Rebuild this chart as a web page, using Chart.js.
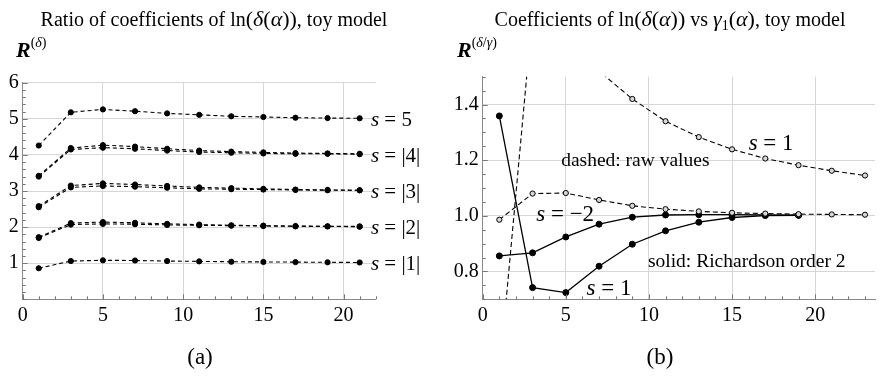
<!DOCTYPE html>
<html>
<head>
<meta charset="utf-8">
<script src="https://cdn.jsdelivr.net/npm/chart.js@4"></script>
<style>
  html, body { margin: 0; padding: 0; background: #fff; }
  .panel { position: absolute; top: 0; width: 440px; height: 377px; }
  #panelA { left: 0; }
  #panelB { left: 440px; }
</style>
</head>
<body>
<div class="panel" id="panelA"><canvas id="chartA" width="440" height="377"></canvas></div>
<div class="panel" id="panelB"><canvas id="chartB" width="440" height="377"></canvas></div>
<script>
// ---- data, panel (a) ----
const xA = [1, 3, 5, 7, 9, 11, 13, 15, 17, 19, 21];
const ratioS5 = [4.26, 5.18, 5.26, 5.21, 5.15, 5.11, 5.07, 5.05, 5.03, 5.02, 5.015];
const ratioS4hi = [3.42, 4.19, 4.27, 4.23, 4.17, 4.12, 4.09, 4.07, 4.05, 4.04, 4.03];
const ratioS4lo = [3.40, 4.15, 4.20, 4.17, 4.12, 4.08, 4.06, 4.04, 4.03, 4.03, 4.02];
const ratioS3hi = [2.58, 3.15, 3.21, 3.18, 3.14, 3.10, 3.08, 3.06, 3.04, 3.03, 3.02];
const ratioS3lo = [2.55, 3.10, 3.14, 3.12, 3.09, 3.06, 3.05, 3.04, 3.03, 3.02, 3.02];
const ratioS2hi = [1.72, 2.11, 2.14, 2.12, 2.09, 2.07, 2.05, 2.04, 2.03, 2.02, 2.02];
const ratioS2lo = [1.70, 2.07, 2.09, 2.08, 2.06, 2.05, 2.04, 2.03, 2.02, 2.02, 2.01];
const ratioS1 = [0.86, 1.06, 1.08, 1.075, 1.06, 1.05, 1.04, 1.035, 1.03, 1.025, 1.02];
const xTicksA = [0, 5, 10, 15, 20];
const yTicksA = [1, 2, 3, 4, 5, 6];

// ---- data, panel (b) ----
const xRaw = [1, 3, 5, 7, 9, 11, 13, 15, 17, 19, 21, 23];
const rawS1 = [0.43, 1.73, 1.62, 1.52, 1.42, 1.34, 1.283, 1.239, 1.206, 1.182, 1.162, 1.145];
const rawSm2 = [0.986, 1.08, 1.082, 1.057, 1.036, 1.024, 1.016, 1.011, 1.008, 1.006, 1.005, 1.004];
const xRich = [1, 3, 5, 7, 9, 11, 13, 15, 17, 19];
const richSm2 = [0.856, 0.867, 0.924, 0.97, 0.995, 1.003, 1.004, 1.004, 1.003, 1.002];
const richS1 = [1.359, 0.742, 0.724, 0.819, 0.898, 0.946, 0.977, 0.994, 1.001, 1.002];
const xTicksB = [0, 5, 10, 15, 20];
const yTicksB = [0.8, 1.0, 1.2, 1.4];

const SERIF = '"Liberation Serif", "Times New Roman", serif';
Chart.defaults.font.family = SERIF;

const pts = (xs, ys) => xs.map((x, i) => ({ x: x, y: ys[i] }));

// draw a run of text pieces with their own size / style
function drawParts(ctx, x, y, parts, align) {
    let total = 0;
    parts.forEach(p => {
        ctx.font = (p.style || '') + ' ' + p.size + 'px ' + SERIF;
        p.w = ctx.measureText(p.t).width;
        total += p.w;
    });
    let cx = align === 'center' ? x - total / 2 : x;
    ctx.fillStyle = '#000';
    ctx.textBaseline = 'alphabetic';
    ctx.textAlign = 'left';
    parts.forEach(p => {
        ctx.font = (p.style || '') + ' ' + p.size + 'px ' + SERIF;
        ctx.fillText(p.t, cx, y + (p.dy || 0));
        cx += p.w;
    });
}

const decorPlugin = {
    id: 'decor',
    afterDraw(chart, args, opts) {
        const ctx = chart.ctx;
        const xs = chart.scales.x, ys = chart.scales.y;
        const area = chart.chartArea;
        ctx.save();
        // minor / major tick marks pointing into the plot
        ctx.strokeStyle = '#777';
        ctx.lineWidth = 1;
        ctx.beginPath();
        for (let i = 0; xs.min + i * opts.minorX <= xs.max + 1e-9; i++) {
            const v = xs.min + i * opts.minorX;
            const px = Math.round(xs.getPixelForValue(v)) + 0.5;
            const len = Math.abs(v / opts.majorX - Math.round(v / opts.majorX)) < 1e-6 ? 5 : 3;
            ctx.moveTo(px, area.bottom);
            ctx.lineTo(px, area.bottom - len);
        }
        const y0 = Math.ceil(ys.min / opts.minorY - 1e-6);
        for (let i = y0; i * opts.minorY <= ys.max + 1e-9; i++) {
            const v = i * opts.minorY;
            const py = Math.round(ys.getPixelForValue(v)) + 0.5;
            const len = Math.abs(v / opts.majorY - Math.round(v / opts.majorY)) < 1e-6 ? 5 : 3;
            ctx.moveTo(area.left, py);
            ctx.lineTo(area.left + len, py);
        }
        ctx.stroke();

        // labels placed in data coordinates
        opts.notes.forEach(n => {
            const px = xs.getPixelForValue(n.x);
            const py = ys.getPixelForValue(n.y);
            drawParts(ctx, px, py + n.size * 0.33, n.parts.map(p => Object.assign({ size: n.size }, p)), 'left');
        });

        // page texts (title, axis label, panel tag)
        opts.texts.forEach(t => drawParts(ctx, t.x, t.y, t.parts, t.align));
        ctx.restore();
    }
};

function eqLabel(x, y, rhs, size) {
    return { x: x, y: y, size: size, parts: [{ t: 's', style: 'italic' }, { t: ' = ' + rhs }] };
}

function dashedSet(data, dash, marker) {
    return Object.assign({
        data: data,
        borderColor: '#000',
        borderWidth: 1.1,
        borderDash: dash,
        pointRadius: 2.6,
        pointBackgroundColor: '#000',
        pointBorderColor: '#000',
        pointBorderWidth: 1,
        tension: 0
    }, marker || {});
}

function axisOptions(min, max, ticks, fmt, fitFn) {
    return {
        type: 'linear',
        min: min,
        max: max,
        afterBuildTicks: s => { s.ticks = ticks.map(v => ({ value: v })); },
        afterFit: fitFn,
        grid: { color: '#d6d6d6', lineWidth: 1, drawTicks: false },
        border: { color: '#8a8a8a', width: 1 },
        ticks: {
            color: '#000',
            font: { family: SERIF, size: 20 },
            padding: 4,
            callback: fmt
        }
    };
}

// ---- panel (a) ----
const dashA = [4, 3];
new Chart(document.getElementById('chartA').getContext('2d'), {
    type: 'line',
    data: {
        datasets: [
            dashedSet(pts(xA, ratioS5), dashA),
            dashedSet(pts(xA, ratioS4hi), dashA),
            dashedSet(pts(xA, ratioS4lo), dashA),
            dashedSet(pts(xA, ratioS3hi), dashA),
            dashedSet(pts(xA, ratioS3lo), dashA),
            dashedSet(pts(xA, ratioS2hi), dashA),
            dashedSet(pts(xA, ratioS2lo), dashA),
            dashedSet(pts(xA, ratioS1), dashA)
        ]
    },
    options: {
        responsive: false,
        animation: false,
        layout: { padding: { left: 0, top: 82.7, right: 64.3, bottom: 37.7 } },
        scales: {
            x: axisOptions(0, 22, xTicksA, v => String(v), s => { s.height = 40; }),
            y: axisOptions(0, 6, yTicksA, v => String(v), s => { s.width = 22.7; })
        },
        plugins: {
            legend: { display: false },
            tooltip: { enabled: false },
            decor: {
                minorX: 1, majorX: 5, minorY: 0.2, majorY: 1,
                notes: [
                    eqLabel(21.7, 5, '5', 21),
                    eqLabel(21.7, 4, '|4|', 21),
                    eqLabel(21.7, 3, '|3|', 21),
                    eqLabel(21.7, 2, '|2|', 21),
                    eqLabel(21.7, 1, '|1|', 21)
                ],
                texts: [
                    { x: 214, y: 26, align: 'center', parts: [
                        { t: 'Ratio of coefficients of ln', size: 20 },
                        { t: '(', size: 22 }, { t: 'δ', size: 22, style: 'italic' },
                        { t: '(', size: 22 }, { t: 'α', size: 22, style: 'italic' },
                        { t: '))', size: 22 }, { t: ', toy model', size: 20 }
                    ] },
                    { x: 16, y: 57, align: 'left', parts: [
                        { t: 'R', size: 22, style: 'italic bold' },
                        { t: '(', size: 14, dy: -10 }, { t: 'δ', size: 14, style: 'italic', dy: -10 },
                        { t: ')', size: 14, dy: -10 }
                    ] },
                    { x: 200, y: 364, align: 'center', parts: [{ t: '(a)', size: 23 }] }
                ]
            }
        }
    },
    plugins: [decorPlugin]
});

// ---- panel (b) ----
const dashB = [5, 3];
const openDot = { pointBackgroundColor: '#d8d8d8', pointRadius: 2.6 };
const solid = { borderDash: [], borderWidth: 1.3, pointRadius: 3 };
new Chart(document.getElementById('chartB').getContext('2d'), {
    type: 'line',
    data: {
        datasets: [
            dashedSet(pts(xRaw, rawS1), dashB, openDot),
            dashedSet(pts(xRaw, rawSm2), dashB, openDot),
            dashedSet(pts(xRich, richSm2), [], solid),
            dashedSet(pts(xRich, richS1), [], solid)
        ]
    },
    options: {
        responsive: false,
        animation: false,
        layout: { padding: { left: 0, top: 76.7, right: 0, bottom: 37.7 } },
        scales: {
            x: axisOptions(0, 23.6, xTicksB, v => String(v), s => { s.height = 40; }),
            y: axisOptions(0.7, 1.5, yTicksB, v => v.toFixed(1), s => { s.width = 42.7; })
        },
        plugins: {
            legend: { display: false },
            tooltip: { enabled: false },
            decor: {
                minorX: 1, majorX: 5, minorY: 0.05, majorY: 0.2,
                notes: [
                    eqLabel(16.0, 1.264, '1', 23),
                    eqLabel(3.22, 1.007, '−2', 23),
                    eqLabel(6.25, 0.743, '1', 23),
                    { x: 4.72, y: 1.203, size: 19.5, parts: [{ t: 'dashed: raw values' }] },
                    { x: 9.94, y: 0.841, size: 19.5, parts: [{ t: 'solid: Richardson order 2' }] }
                ],
                texts: [
                    { x: 230, y: 26, align: 'center', parts: [
                        { t: 'Coefficients of ln', size: 20 },
                        { t: '(', size: 22 }, { t: 'δ', size: 22, style: 'italic' },
                        { t: '(', size: 22 }, { t: 'α', size: 22, style: 'italic' },
                        { t: '))', size: 22 }, { t: ' vs ', size: 20 },
                        { t: 'γ', size: 22, style: 'italic' }, { t: '1', size: 14, dy: 4 },
                        { t: '(', size: 22 }, { t: 'α', size: 22, style: 'italic' },
                        { t: ')', size: 22 }, { t: ', toy model', size: 20 }
                    ] },
                    { x: 17, y: 57, align: 'left', parts: [
                        { t: 'R', size: 22, style: 'italic bold' },
                        { t: '(', size: 14, dy: -10 }, { t: 'δ', size: 14, style: 'italic', dy: -10 },
                        { t: '/', size: 14, dy: -10 }, { t: 'γ', size: 14, style: 'italic', dy: -10 },
                        { t: ')', size: 14, dy: -10 }
                    ] },
                    { x: 220, y: 364, align: 'center', parts: [{ t: '(b)', size: 23 }] }
                ]
            }
        }
    },
    plugins: [decorPlugin]
});
</script>
</body>
</html>
